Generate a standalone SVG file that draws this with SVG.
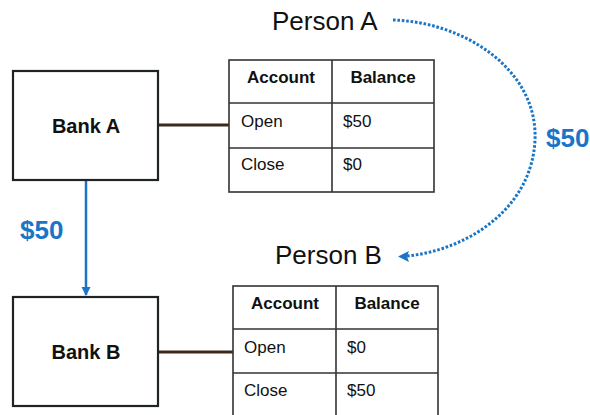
<svg xmlns="http://www.w3.org/2000/svg" width="590" height="415" viewBox="0 0 590 415">
  <defs>
    <style>
      .bank { fill: #ffffff; stroke: #1e2326; stroke-width: 2.2; }
      .bank-label { font-family: "Liberation Sans", Arial, sans-serif; font-weight: bold; font-size: 20px; fill: #111; text-anchor: middle; }
      .grid { fill: none; stroke: #333; stroke-width: 1.6; }
      .th { font-family: "Liberation Sans", Arial, sans-serif; font-weight: bold; font-size: 17px; fill: #111; text-anchor: middle; }
      .td { font-family: "Liberation Sans", Arial, sans-serif; font-size: 17px; fill: #111; }
      .person { font-family: "Liberation Sans", Arial, sans-serif; font-size: 26px; fill: #111; }
      .amount { font-family: "Liberation Sans", Arial, sans-serif; font-weight: bold; font-size: 26px; fill: #1b75c6; }
      .link { stroke: #3b2a1c; stroke-width: 3; fill: none; }
      .flow { stroke: #1b75c6; stroke-width: 2.5; fill: none; }
      .dotted { stroke: #1b75c6; stroke-width: 3; fill: none; stroke-dasharray: 2.6 1.8; }
    </style>
    <marker id="arrow" markerWidth="10" markerHeight="10" refX="8" refY="5" orient="auto" markerUnits="userSpaceOnUse">
      <path d="M0,0.5 L9,5 L0,9.5 Z" fill="#1b75c6"/>
    </marker>
  </defs>

  <rect width="590" height="415" fill="#ffffff"/>

  <!-- connectors -->
  <g id="connectors">
    <line class="link" x1="158" y1="125" x2="229" y2="125"/>
    <line class="link" x1="158" y1="352" x2="233" y2="352"/>
    <line class="flow" x1="86" y1="181" x2="86" y2="295" marker-end="url(#arrow)"/>
    <path class="dotted" d="M393,20 C465,22 538,70 535,140 C532,208 468,250 407,256"/>
    <path d="M398,256.5 L409,251 L407,256.5 L409,262 Z" fill="#1b75c6"/>
    <text class="amount" x="20" y="239">$50</text>
    <text class="amount" x="546" y="147">$50</text>
  </g>

  <!-- Bank A -->
  <g id="bank-a">
    <rect class="bank" x="13" y="71" width="145" height="109"/>
    <text class="bank-label" x="86" y="133">Bank A</text>
  </g>

  <!-- Bank B -->
  <g id="bank-b">
    <rect class="bank" x="13" y="297" width="145" height="109"/>
    <text class="bank-label" x="86" y="359">Bank B</text>
  </g>

  <!-- Person A -->
  <g id="person-a">
    <text class="person" x="272" y="30">Person A</text>
  </g>

  <!-- Person B -->
  <g id="person-b">
    <text class="person" x="275" y="264">Person B</text>
  </g>

  <!-- Account table A -->
  <g id="table-a">
    <rect class="grid" x="229" y="60" width="205" height="132"/>
    <line class="grid" x1="332" y1="60" x2="332" y2="192"/>
    <line class="grid" x1="229" y1="103" x2="434" y2="103"/>
    <line class="grid" x1="229" y1="148" x2="434" y2="148" stroke-width="2.2"/>
    <text class="th" x="281" y="83">Account</text>
    <text class="th" x="383" y="83">Balance</text>
    <text class="td" x="241" y="127">Open</text>
    <text class="td" x="343" y="127">$50</text>
    <text class="td" x="241" y="170">Close</text>
    <text class="td" x="343" y="170">$0</text>
  </g>

  <!-- Account table B -->
  <g id="table-b">
    <rect class="grid" x="233" y="286" width="205" height="132"/>
    <line class="grid" x1="336" y1="286" x2="336" y2="418"/>
    <line class="grid" x1="233" y1="329" x2="438" y2="329"/>
    <line class="grid" x1="233" y1="373" x2="438" y2="373"/>
    <text class="th" x="285" y="309">Account</text>
    <text class="th" x="387" y="309">Balance</text>
    <text class="td" x="244" y="353">Open</text>
    <text class="td" x="347" y="353">$0</text>
    <text class="td" x="244" y="396">Close</text>
    <text class="td" x="347" y="396">$50</text>
  </g>
</svg>
